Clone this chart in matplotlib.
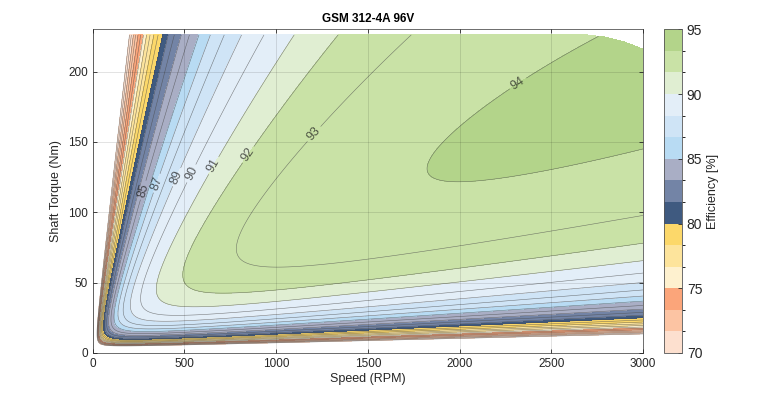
import numpy as np
import matplotlib.pyplot as plt
from matplotlib.colors import ListedColormap, BoundaryNorm
from matplotlib.cm import ScalarMappable

plt.rcParams['font.family'] = ['Liberation Sans', 'DejaVu Sans']

# loss model (losses in W, torque in Nm, speed in RPM)
copper_base = 0.0380     # copper loss coefficient at standstill
copper_slope = 4.66e-6   # rise of copper coefficient per RPM
iron_const = 3.0
iron_lin = 0.1767
iron_quad = 1.424e-4

# max torque envelope
limit_rpm = [0, 2700, 2800, 2900, 3000]
limit_torque = [226, 226, 224.5, 221, 216]

# contour levels and labels
levels = list(range(70, 96))
label_levels = [85, 87, 89, 90, 91, 92, 93, 94]
label_spots = [(267, 116), (340, 121), (440, 126), (531, 128),
               (649, 134), (831, 142.5), (1195, 157), (2331, 189)]

# colormap, 70 -> 95 in 15 steps
band_colors = ['#fde0cf', '#fcc4a3', '#fba57a', '#fef1cf', '#fde49c',
               '#fcd86a', '#3f5a80', '#7384a6', '#a9aec5', '#b8dbf3',
               '#cfe4f6', '#e3eef8', '#e0eed2', '#c9e2a6', '#b3d48a']
cbar_ticks = [70, 75, 80, 85, 90, 95]

#Calcul de la carte de rendement
n = np.linspace(0, 3000, 1201)
t = np.linspace(0, 230, 1151)
N, T = np.meshgrid(n, t)
w = N * np.pi / 30
p_out = T * w
losses = (copper_base + copper_slope * N) * T**2 + iron_const + iron_lin * N + iron_quad * N**2
eff = 100 * p_out / (p_out + losses)
eff[T > np.interp(N, limit_rpm, limit_torque)] = np.nan
eff = np.ma.masked_invalid(eff)

vmin, vmax = cbar_ticks[0], cbar_ticks[-1]
step = (vmax - vmin) / len(band_colors)
fill_colors = [band_colors[int(np.clip(np.floor((lv - 0.01 - vmin) / step), 0, len(band_colors) - 1))]
               for lv in levels[:-1]]

fig = plt.figure(figsize=(7.7, 3.98), dpi=100)
ax = fig.add_axes([0.1204, 0.1131, 0.7146, 0.8133])

ax.contourf(N, T, eff, levels=levels, colors=fill_colors)
line_style = dict(colors='#4a4a4a', linewidths=0.4, alpha=0.7)
plain_levels = [lv for lv in levels if lv not in label_levels]
ax.contour(N, T, eff, levels=plain_levels, **line_style)
cs = ax.contour(N, T, eff, levels=label_levels, **line_style)
ax.clabel(cs, manual=label_spots, fmt='%d', fontsize=9, colors='#1a1a1a', inline=True, inline_spacing=3)

ax.set_xlim(0, 3000)
ax.set_ylim(0, 230)
ax.set_xticks(range(0, 3001, 500))
ax.set_yticks(range(0, 201, 50))
ax.grid(True, color='k', alpha=0.13, linewidth=0.6)
ax.set_axisbelow(False)
ax.tick_params(direction='in', top=True, right=True, length=3, width=0.6, labelsize=8.5, colors='#262626')
for s in ax.spines.values():
    s.set_color('#555555')
    s.set_linewidth(0.6)

ax.set_title('GSM 312-4A 96V', fontsize=8.5, fontweight='bold', pad=5)
ax.set_xlabel('Speed (RPM)', fontsize=9, color='#262626', labelpad=2)
ax.set_ylabel('Shaft Torque (Nm)', fontsize=9, color='#262626', labelpad=4)

#Barre de couleur
cax = fig.add_axes([0.8623, 0.1131, 0.0234, 0.8133])
cmap = ListedColormap(band_colors)
norm = BoundaryNorm(np.linspace(vmin, vmax, len(band_colors) + 1), cmap.N)
cb = fig.colorbar(ScalarMappable(norm=norm, cmap=cmap), cax=cax, ticks=cbar_ticks)
cb.outline.set_edgecolor('#555555')
cb.outline.set_linewidth(0.6)
cb.ax.tick_params(direction='in', length=3, width=0.6, labelsize=10, colors='#262626')
cb.set_label('Efficiency [%]', fontsize=9, color='#262626', labelpad=3)

plt.savefig('out.png', dpi=100)
